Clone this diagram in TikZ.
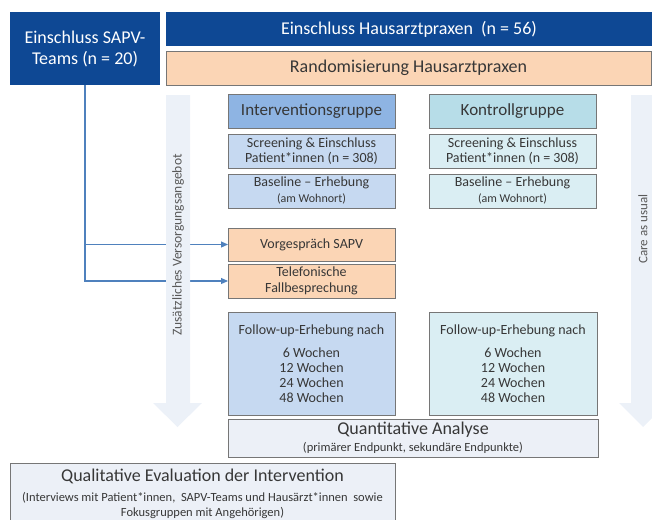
\documentclass[tikz,border=0pt]{standalone}
\usepackage{fontspec}
\setmainfont{Carlito}
\usetikzlibrary{arrows.meta}

\definecolor{navy}{RGB}{14,72,148}
\definecolor{peach}{RGB}{251,213,181}
\definecolor{midblue}{RGB}{142,180,227}
\definecolor{paleblue}{RGB}{198,217,241}
\definecolor{aqua}{RGB}{183,221,232}
\definecolor{paleaqua}{RGB}{218,238,243}
\definecolor{mist}{RGB}{236,240,247}
\definecolor{arrowfill}{RGB}{236,241,248}
\definecolor{frame}{RGB}{118,118,118}
\definecolor{ink}{RGB}{55,55,55}
\definecolor{labelgray}{RGB}{89,89,89}
\definecolor{linkblue}{RGB}{79,129,189}

\newcommand\fsz[2]{\fontsize{#1}{#2}\selectfont}

\begin{document}
\begin{tikzpicture}[x=1pt,y=-1pt,
  box/.style={draw=frame, line width=0.9pt, inner sep=0pt, outer sep=0pt, align=center, text=ink},
  headbox/.style={fill=navy, inner sep=0pt, outer sep=0pt, align=center, text=white},
  txt/.style={inner sep=0pt, text=ink, align=center},
  link/.style={draw=linkblue, line width=1.1pt, -{Triangle[length=7pt,width=6pt]}},
  widearrow/.style={fill=arrowfill},
  sidelabel/.style={rotate=90, text=labelgray, inner sep=0pt},
  big/.style={font=\fsz{18}{21}},
  mid/.style={font=\fsz{17}{20}},
  small/.style={font=\fsz{14}{16}},
  tiny/.style={font=\fsz{12.5}{15}}
]
\useasboundingbox (0,0) rectangle (652,519);
\clip (0,0) rectangle (652,519);

% top row
\node[headbox, big, minimum width=150, minimum height=73] (sapv) at (85,48.5)
  {Einschluss SAPV-\\Teams (n = 20)};
\node[headbox, big, minimum width=490, minimum height=34] (haus) at (411,29)
  {\hspace*{-4pt}Einschluss Hausarztpraxen\ \ (n = 56)};
\node[box, big, fill=peach, minimum width=485, minimum height=34] (rand) at (408.5,68)
  {Randomisierung Hausarztpraxen};

% intervention arm
\node[box, mid, fill=midblue, minimum width=167, minimum height=34] (igrp) at (311.5,111)
  {Interventionsgruppe};
\node[box, font=\fsz{14}{15.6}, fill=paleblue, minimum width=167, minimum height=34] (iscr) at (311.5,151)
  {Screening \& Einschluss\\Patient*innen (n = 308)};
\node[box, fill=paleblue, minimum width=167, minimum height=34] (ibase) at (311.5,191) {};
\node[txt, small] (ibaseA) at (311.5,183.3) {Baseline -- Erhebung};
\node[txt, font=\fsz{12}{14}] (ibaseB) at (311.5,199) {(am Wohnort)};
\node[box, small, fill=peach, minimum width=167, minimum height=33] (vorg) at (311.5,244.5)
  {Vorgespräch SAPV};
\node[box, font=\fsz{14}{16.6}, fill=peach, minimum width=167, minimum height=34] (tele) at (311.5,281)
  {Telefonische\\Fallbesprechung};
\node[box, font=\fsz{14}{15}, fill=paleblue, minimum width=167, minimum height=103] (ifu) at (311.5,363.5)
  {Follow-up-Erhebung nach\\[8pt]6 Wochen\\12 Wochen\\24 Wochen\\48 Wochen};

% control arm
\node[box, mid, fill=aqua, minimum width=167, minimum height=34] (kgrp) at (512.5,111)
  {Kontrollgruppe};
\node[box, font=\fsz{14}{15.6}, fill=paleaqua, minimum width=167, minimum height=34] (kscr) at (512.5,151)
  {Screening \& Einschluss\\Patient*innen (n = 308)};
\node[box, fill=paleaqua, minimum width=167, minimum height=34] (kbase) at (512.5,191) {};
\node[txt, small] (kbaseA) at (512.5,183.3) {Baseline -- Erhebung};
\node[txt, font=\fsz{12}{14}] (kbaseB) at (512.5,199) {(am Wohnort)};
\node[box, font=\fsz{14}{15}, fill=paleaqua, minimum width=168, minimum height=103] (kfu) at (513,363.5)
  {Follow-up-Erhebung nach\\[8pt]6 Wochen\\12 Wochen\\24 Wochen\\48 Wochen};

% analyses
\node[box, fill=mist, minimum width=370, minimum height=38] (quant) at (413,438) {};
\node[txt, big] (quantA) at (413,430) {Quantitative Analyse};
\node[txt, tiny] (quantB) at (413,448) {(primärer Endpunkt, sekundäre Endpunkte)};
\node[box, fill=mist, minimum width=385, minimum height=62] (qual) at (202.5,494) {};
\node[txt, big] (qualA) at (202.5,476.5) {Qualitative Evaluation der Intervention};
\node[txt, tiny] (qualB) at (202.5,498)
  {(Interviews mit Patient*innen,\ \ SAPV-Teams und Hausärzt*innen\ \ sowie};
\node[txt, tiny] (qualC) at (202.5,512.5) {Fokusgruppen mit Angehörigen)};

% SAPV teams feed the additional care offer
\draw[link] (sapv.south) |- (vorg.west);
\draw[link] (sapv.south) |- (tele.west);

% broad timeline arrows
\fill[widearrow] (166,95) -- (190,95) -- (190,403) -- (202,403) -- (177.5,427)
  -- (153,403) -- (166,403) -- cycle;
\fill[widearrow] (631,95) -- (655,95) -- (655,403) -- (667,403) -- (643,427)
  -- (619,403) -- (631,403) -- cycle;
\node[sidelabel, font=\fsz{13.5}{15}] (extra) at (178,245) {Zusätzliches Versorgungsangebot};
\node[sidelabel, font=\fsz{13}{15}] (usual) at (643,229) {Care as usual};
\end{tikzpicture}
\end{document}
